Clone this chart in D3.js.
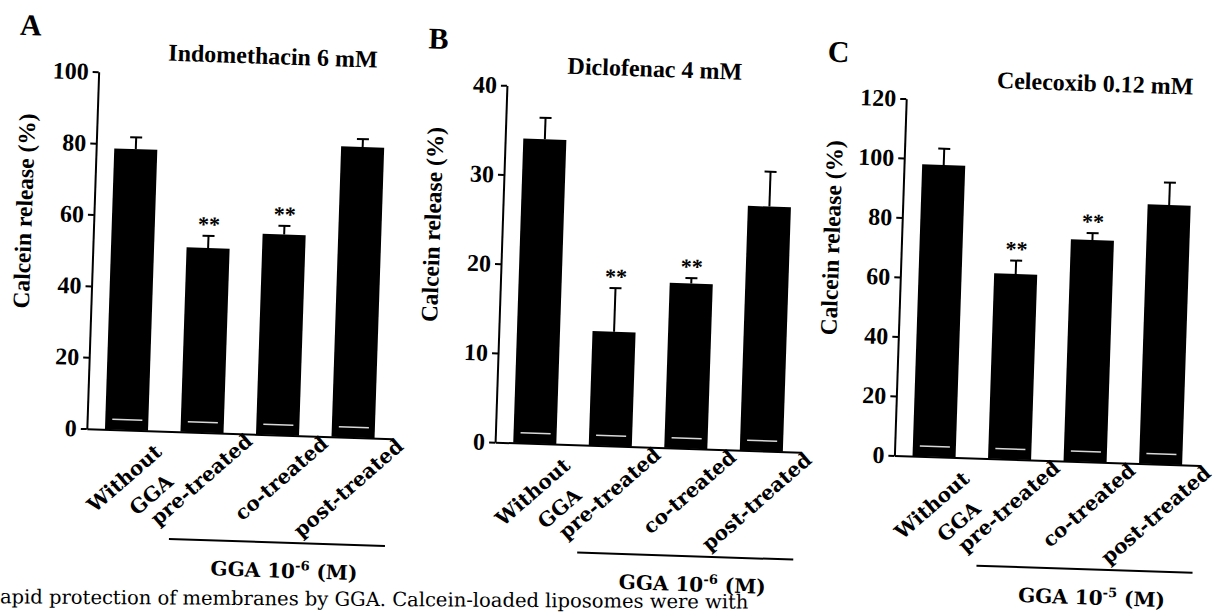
<!DOCTYPE html>
<html lang="en">
<head>
<meta charset="utf-8">
<title>Calcein release - GGA protection</title>
<script src="https://cdnjs.cloudflare.com/ajax/libs/d3/7.8.5/d3.min.js"></script>
<style>
  body { margin: 0; background: #fff; }
  svg { display: block; }
</style>
</head>
<body>
<svg id="chart" width="1215" height="615"></svg>
<script>
// categories shared by the three panels
var categories = ["Without\nGGA", "pre-treated", "co-treated", "post-treated"];
var starred = [false, true, true, false];

// A : indomethacin 6 mM
var indoMean = [78.7, 51.7, 56.2, 81.4];
var indoErr = [3.3, 3.4, 2.4, 2.2];
var indoTicks = [0, 20, 40, 60, 80, 100];

// B : diclofenac 4 mM
var dicloMean = [34.1, 12.8, 18.5, 27.4];
var dicloErr = [2.4, 4.9, 0.6, 3.9];
var dicloTicks = [0, 10, 20, 30, 40];

// C : celecoxib 0.12 mM
var celeMean = [98.1, 62.3, 74.6, 87.2];
var celeErr = [5.5, 4.5, 2.3, 7.5];
var celeTicks = [0, 20, 40, 60, 80, 100, 120];

var letters = ["A", "B", "C"];
var titles = ["Indomethacin 6 mM", "Diclofenac 4 mM", "Celecoxib 0.12 mM"];
var ggaExp = ["-6", "-6", "-5"];
var yLabel = "Calcein release (%)";
var caption = "apid protection of membranes by GGA. Calcein-loaded liposomes were with";

// layout (the scanned page is turned a little, so everything sits in one rotated group)
var axisX = [101, 509.5, 909];
var titleDx = [69, 60, 90];
var plotTop = 68.5, plotBase = 425.5, bandW = 306;
var times = "'Liberation Serif', 'Times New Roman', serif";
var century = "'DejaVu Serif', serif";

var svg = d3.select("#chart");
svg.append("rect").attr("width", 1215).attr("height", 615).attr("fill", "#fff");
var page = svg.append("g").attr("transform", "rotate(1.9)");

var panels = [
  { mean: indoMean, err: indoErr, ticks: indoTicks },
  { mean: dicloMean, err: dicloErr, ticks: dicloTicks },
  { mean: celeMean, err: celeErr, ticks: celeTicks }
];

panels.forEach(function(p, i) {
  var g = page.append("g").attr("transform", "translate(" + axisX[i] + ",0)");

  var rows = p.mean.map(function(v, k) {
    return { cat: categories[k], v: v, e: p.err[k], star: starred[k] };
  });

  var y = d3.scaleLinear()
            .domain([0, d3.max(p.ticks)])
            .range([plotBase, plotTop]);
  var x = d3.scaleBand()
            .domain(categories)
            .range([0, bandW])
            .paddingInner(0.43)
            .paddingOuter(0.24);
  var bw = x.bandwidth();

  // bars
  g.selectAll("rect.bar")
   .data(rows)
   .join("rect")
   .attr("class", "bar")
   .attr("x", function(d) { return x(d.cat); })
   .attr("y", function(d) { return y(d.v); })
   .attr("width", bw)
   .attr("height", function(d) { return plotBase - y(d.v); })
   .attr("fill", "#000");

  // little white streak the scan shows near the foot of every bar
  g.selectAll("rect.streak")
   .data(rows)
   .join("rect")
   .attr("class", "streak")
   .attr("x", function(d) { return x(d.cat) + 7; })
   .attr("y", plotBase - 11)
   .attr("width", bw - 13)
   .attr("height", 1.5)
   .attr("fill", "#fff")
   .attr("opacity", 0.85);

  // error bars (upper half only)
  var eb = g.selectAll("g.err")
            .data(rows)
            .join("g")
            .attr("class", "err")
            .attr("transform", function(d) { return "translate(" + (x(d.cat) + bw / 2) + ",0)"; });
  eb.append("line")
    .attr("y1", function(d) { return y(d.v); })
    .attr("y2", function(d) { return y(d.v + d.e); })
    .attr("stroke", "#000").attr("stroke-width", 2);
  eb.append("line")
    .attr("x1", -6).attr("x2", 6)
    .attr("y1", function(d) { return y(d.v + d.e); })
    .attr("y2", function(d) { return y(d.v + d.e); })
    .attr("stroke", "#000").attr("stroke-width", 2);

  // significance marks
  eb.filter(function(d) { return d.star; })
    .append("text")
    .attr("y", function(d) { return y(d.v + d.e) - 4; })
    .attr("text-anchor", "middle")
    .attr("font-family", times)
    .attr("font-weight", "bold")
    .attr("font-size", 22)
    .text("**");

  // y axis
  var ya = g.append("g")
            .call(d3.axisLeft(y).tickValues(p.ticks).tickSize(6).tickSizeOuter(0).tickPadding(4));
  ya.attr("font-family", times).attr("font-size", 24).attr("font-weight", "bold");
  ya.select(".domain").attr("stroke-width", 2);
  ya.selectAll(".tick line").attr("stroke-width", 2);
  ya.selectAll(".tick text").attr("fill", "#000");

  // x axis: the baseline and the slanted category names
  var xa = g.append("g")
            .attr("transform", "translate(0," + plotBase + ")")
            .call(d3.axisBottom(x).tickSize(0).tickSizeOuter(0));
  xa.attr("font-family", century).attr("font-size", 20).attr("font-weight", "bold");
  xa.select(".domain").attr("stroke-width", 2);
  xa.selectAll(".tick text").each(function(d) {
    var lines = d.split("\n");
    var t = d3.select(this).text(null)
              .attr("x", null).attr("y", null).attr("dy", null)
              .attr("fill", "#000")
              .attr("text-anchor", "end")
              .attr("transform", "translate(52,9) rotate(-43)");
    lines.forEach(function(ln, k) {
      t.append("tspan")
       .attr("x", lines.length > 1 ? -20 - 11 * k : 0)
       .attr("y", 30 * k)
       .text(ln);
    });
  });

  // bracket under the GGA treated groups
  var bx1 = x(categories[1]) - 8, bx2 = x(categories[3]) + bw + 14;
  g.append("line")
   .attr("x1", bx1).attr("x2", bx2)
   .attr("y1", 533).attr("y2", 533)
   .attr("stroke", "#000").attr("stroke-width", 2);
  var gl = g.append("text")
            .attr("x", (bx1 + bx2) / 2 + 8)
            .attr("y", 568)
            .attr("text-anchor", "middle")
            .attr("font-family", century)
            .attr("font-weight", "bold")
            .attr("font-size", 20);
  gl.append("tspan").text("GGA 10");
  gl.append("tspan").attr("font-size", 13).attr("dy", -8).text(ggaExp[i]);
  gl.append("tspan").attr("dy", 8).text(" (M)");

  // axis title
  g.append("text")
   .attr("transform", "translate(-62,210) rotate(-90)")
   .attr("text-anchor", "middle")
   .attr("font-family", times)
   .attr("font-weight", "bold")
   .attr("font-size", 23.5)
   .text(yLabel);

  // panel letter and title
  g.append("text")
   .attr("x", -80).attr("y", 34)
   .attr("font-family", times)
   .attr("font-weight", "bold")
   .attr("font-size", 30)
   .text(letters[i]);
  g.append("text")
   .attr("x", titleDx[i]).attr("y", 55)
   .attr("font-family", times)
   .attr("font-weight", "bold")
   .attr("font-size", 24)
   .text(titles[i]);
});

// first line of the figure legend, at the foot of the page
page.append("text")
    .attr("transform", "translate(20,603) rotate(-1.5)")
    .attr("font-family", century)
    .attr("font-size", 19.5)
    .text(caption);
</script>
</body>
</html>
